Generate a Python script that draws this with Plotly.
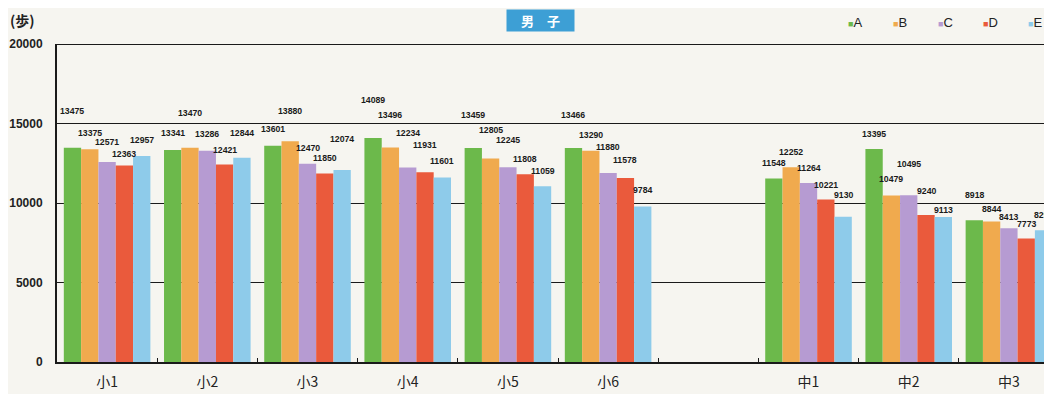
import plotly.graph_objects as go

# data (steps per day, boys)
categories = ["小1", "小2", "小3", "小4", "小5", "小6", " ", "中1", "中2", "中3"]
series_names = ["A", "B", "C", "D", "E"]
steps_a = [13475, 13341, 13601, 14089, 13459, 13466, None, 11548, 13395, 8918]
steps_b = [13375, 13470, 13880, 13496, 12805, 13290, None, 12252, 10479, 8844]
steps_c = [12571, 13286, 12470, 12234, 12245, 11880, None, 11264, 10495, 8413]
steps_d = [12363, 12421, 11850, 11931, 11808, 11578, None, 10221, 9240, 7773]
steps_e = [12957, 12844, 12074, 11601, 11059, 9784, None, 9130, 9113, 8291]
y_ticks = [0, 5000, 10000, 15000, 20000]
y_tick_text = ["0", "5000", "10000", "15000", "20000"]

series_values = [steps_a, steps_b, steps_c, steps_d, steps_e]
colors = ["#6cb94b", "#f0aa4e", "#b69bd2", "#ea5a3c", "#8ecbea"]

# how far (px) each value label sits above its bar, staggered as in the original
label_lift = [
    [37, 17, 17, 38, 33, 33, 0, 15, 15, 25],
    [16, 35, 30, 32, 28, 16, 0, 15, 16, 12],
    [20, 17, 16, 34, 27, 26, 0, 15, 31, 11],
    [11, 15, 16, 27, 15, 18, 0, 14, 24, 14],
    [16, 25, 31, 17, 15, 16, 0, 22, 7, 15],
]

# the page adds an 8px body margin, so the figure is sized to fill the rest
W, H = 1044, 386
M_L, M_R, M_T, M_B = 49, 0, 36, 32
X_RANGE = [-0.5, 9.43]
BARGAP = 0.136

plot_w = W - M_L - M_R
plot_h = H - M_T - M_B
slot_px = plot_w / (X_RANGE[1] - X_RANGE[0])
bar_px = slot_px * (1 - BARGAP) / len(series_names)

fig = go.Figure()

for name, vals, col in zip(series_names, series_values, colors):
    fig.add_trace(go.Bar(
        x=categories,
        y=vals,
        name=name,
        marker=dict(color=col, line=dict(width=0)),
        showlegend=False,
    ))

annotations = []
for i, vals in enumerate(series_values):
    for j, v in enumerate(vals):
        if v is None:
            continue
        annotations.append(dict(
            x=categories[j], y=v, xref="x", yref="y",
            text=f"<b>{v}</b>", showarrow=False,
            xshift=(i - 2) * bar_px, yshift=label_lift[i][j],
            yanchor="middle",
            font=dict(family="Liberation Sans, Arial", size=8.7, color="#1a1a1a"),
        ))

# "(歩)" unit label
annotations.append(dict(
    x=-49 / plot_w, y=1 + 24 / plot_h,
    xref="x domain", yref="y domain", xanchor="left", yanchor="middle",
    text="<b>(歩)</b>", showarrow=False,
    font=dict(family="Noto Sans CJK JP", size=14, color="#222222"),
))

# title badge
annotations.append(dict(
    x=483 / plot_w, y=1 + 24 / plot_h,
    xref="x domain", yref="y domain", xanchor="center", yanchor="middle",
    text="<b>　男　子　</b>", showarrow=False, bgcolor="#3d9fd5",
    borderpad=1,
    font=dict(family="Noto Sans CJK JP", size=13, color="white"),
))

# legend built as coloured squares + letters
for k, (name, col) in enumerate(zip(series_names, colors)):
    annotations.append(dict(
        x=(789 + k * 45) / plot_w, y=1 + 21 / plot_h,
        xref="x domain", yref="y domain", xanchor="left", yanchor="middle",
        text=f'<span style="color:{col}; font-size:9px">■</span>{name}',
        showarrow=False,
        font=dict(family="Liberation Sans, Arial", size=13, color="#222222"),
    ))

fig.update_layout(
    width=W,
    height=H,
    margin=dict(l=M_L, r=M_R, t=M_T, b=M_B, autoexpand=False),
    paper_bgcolor="#f6f5f0",
    plot_bgcolor="#f6f5f0",
    barmode="group",
    bargap=BARGAP,
    bargroupgap=0,
    annotations=annotations,
    xaxis=dict(
        type="category",
        range=X_RANGE,
        automargin=False,
        showgrid=False,
        showline=True,
        linecolor="#1a1a1a",
        linewidth=2,
        ticks="inside",
        tickson="boundaries",
        ticklen=4,
        tickcolor="#1a1a1a",
        ticklabelstandoff=6,
        tickfont=dict(family="Noto Sans CJK JP", size=14, color="#222222"),
    ),
    yaxis=dict(
        range=[0, 20000],
        tickvals=y_ticks,
        ticktext=[f"<b>{t}</b>" for t in y_tick_text],
        automargin=False,
        showgrid=True,
        gridcolor="#1a1a1a",
        gridwidth=1,
        zeroline=False,
        showline=True,
        linecolor="#1a1a1a",
        linewidth=2,
        ticks="",
        ticklabelstandoff=10,
        tickfont=dict(family="Liberation Sans, Arial", size=12, color="#222222"),
    ),
)

# heavier top border at 20000
fig.add_shape(type="line", xref="x domain", yref="y", x0=0, x1=1, y0=20000, y1=20000,
              line=dict(color="#1a1a1a", width=2))

fig.write_html("out.html")
